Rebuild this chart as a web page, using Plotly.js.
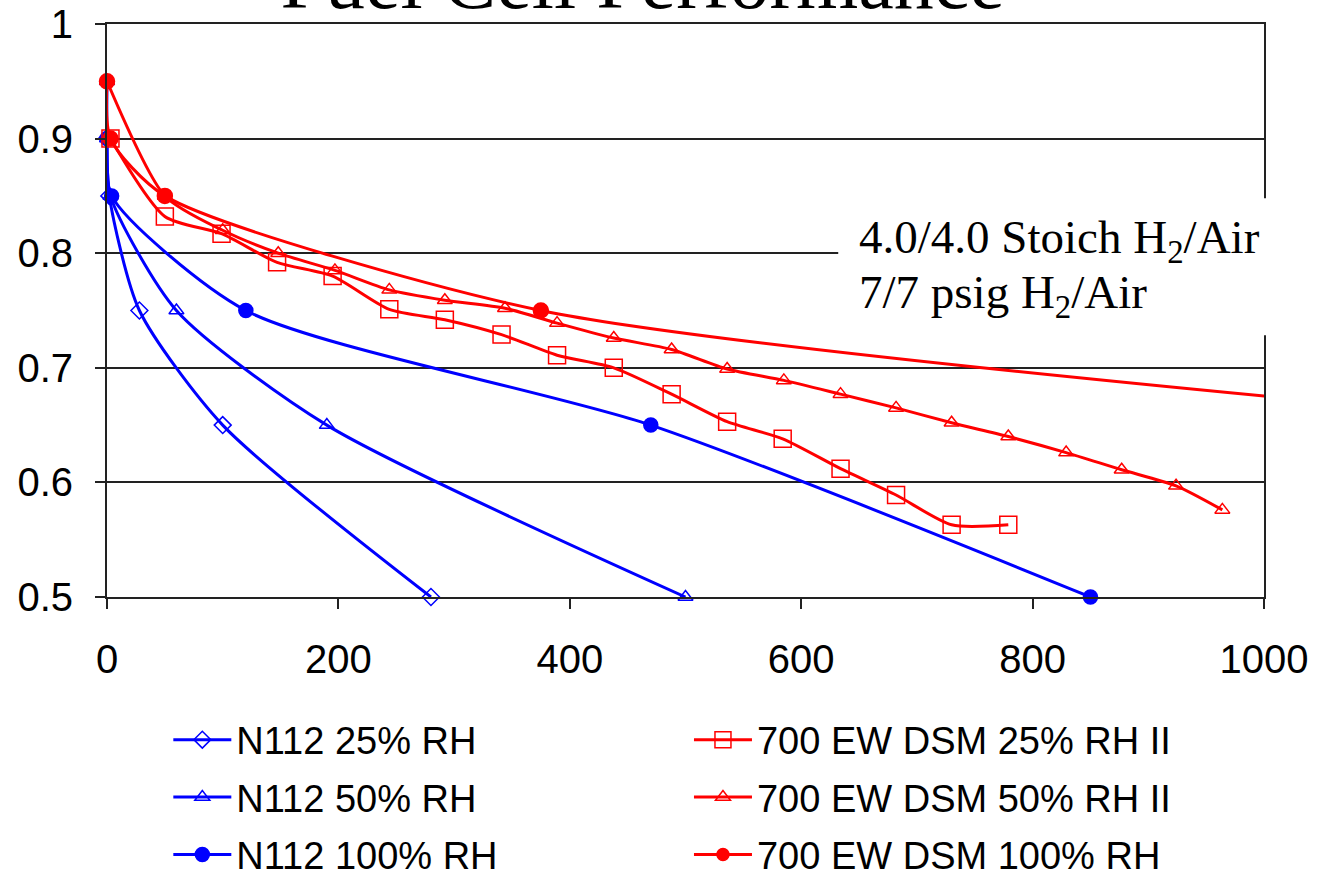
<!DOCTYPE html>
<html><head><meta charset="utf-8">
<script src="https://cdn.plot.ly/plotly-3.0.1.min.js"></script>
<style>html,body{margin:0;padding:0;background:#fff;} #chart{width:1317px;height:872px;}</style>
</head><body><div id="chart"></div>
<script>
const titleText = "Fuel Cell Performance";
const noteLine1 = "4.0/4.0 Stoich H<sub>2</sub>/Air";
const noteLine2 = "7/7 psig H<sub>2</sub>/Air";

const seriesNames = ["N112 25% RH", "N112 50% RH", "N112 100% RH",
  "700 EW DSM 25% RH II", "700 EW DSM 50% RH II", "700 EW DSM 100% RH"];

const n112_25_x = [0, 2, 28, 100, 280];
const n112_25_y = [0.9, 0.85, 0.75, 0.65, 0.5];
const n112_50_x = [0, 0, 3, 60, 190, 500];
const n112_50_y = [0.95, 0.9, 0.85, 0.75, 0.65, 0.5];
const n112_100_x = [0, 4, 120, 470, 850];
const n112_100_y = [0.9, 0.85, 0.75, 0.65, 0.5];

const dsm_25_x = [3, 50, 99, 147, 195, 244, 292, 341, 389, 438, 488, 536, 584, 634, 682, 730, 779];
const dsm_25_y = [0.9, 0.832, 0.817, 0.792, 0.78, 0.751, 0.742, 0.729, 0.711, 0.70, 0.677, 0.653, 0.638, 0.612, 0.589, 0.563, 0.563];
const dsm_50_x = [0, 50, 100, 148, 197, 244, 292, 344, 389, 438, 488, 536, 585, 634, 682, 730, 779, 829, 877, 924, 964];
const dsm_50_y = [0.95, 0.85, 0.82, 0.80, 0.785, 0.768, 0.759, 0.752, 0.739, 0.726, 0.716, 0.699, 0.689, 0.677, 0.665, 0.652, 0.640, 0.626, 0.611, 0.597, 0.576];
const dsm_100_x = [0, 3, 50, 375, 1003];
const dsm_100_y = [0.95, 0.9, 0.85, 0.75, 0.675];

const xTickVals = [0, 200, 400, 600, 800, 1000];
const xTickText = ["0", "200", "400", "600", "800", "1000"];
const yTickVals = [0.5, 0.6, 0.7, 0.8, 0.9, 1];
const yTickText = ["0.5", "0.6", "0.7", "0.8", "0.9", "1"];

const BLUE = "#0000FF", RED = "#FF0000";
const sansFont = "Liberation Sans, Arial, sans-serif";
const serifFont = "Liberation Serif, Times New Roman, serif";

function mk(x, y, name, color, symbol, size, legendId, group, hideBeyond) {
  return {
    type: "scatter", mode: "lines+markers", x: x, y: y, name: name,
    legend: legendId, legendgroup: group, cliponaxis: false,
    line: {color: color, width: 3, shape: "spline", smoothing: 0.7},
    marker: {
      color: color, symbol: symbol, opacity: 1,
      size: hideBeyond ? x.map(v => v > 1000 ? 0 : size) : size,
      line: {color: color, width: 1.5}
    }
  };
}

const data = [
  mk(n112_25_x, n112_25_y, seriesNames[0], BLUE, "diamond-open", 13, "legend", "g1"),
  mk(n112_50_x, n112_50_y, seriesNames[1], BLUE, "triangle-up-open", 13, "legend", "g2"),
  mk(n112_100_x, n112_100_y, seriesNames[2], BLUE, "circle", 14, "legend", "g3"),
  mk(dsm_25_x, dsm_25_y, seriesNames[3], RED, "square-open", 17, "legend2", "g4"),
  mk(dsm_50_x, dsm_50_y, seriesNames[4], RED, "triangle-up-open", 13, "legend2", "g5"),
  mk(dsm_100_x, dsm_100_y, seriesNames[5], RED, "circle", 15, "legend2", "g6", true)
];

const legendCommon = {
  orientation: "v", xanchor: "left", yanchor: "top", yref: "paper",
  font: {family: sansFont, size: 38, color: "#000"},
  bgcolor: "rgba(0,0,0,0)", borderwidth: 0, itemwidth: 58,
  traceorder: "grouped", tracegroupgap: 5,
  itemclick: false, itemdoubleclick: false
};

const layout = {
  width: 1317, height: 872,
  margin: {l: 107, r: 53, t: 24, b: 275, pad: 0, autoexpand: false},
  paper_bgcolor: "#fff", plot_bgcolor: "#fff",
  showlegend: true,
  title: {
    text: titleText,
    font: {family: serifFont, size: 80, color: "#000"},
    xref: "container", yref: "container", x: 0.488, xanchor: "center",
    y: 1 - 8 / 872, yanchor: "bottom"
  },
  xaxis: {
    range: [0, 1000], tickvals: xTickVals, ticktext: xTickText,
    ticks: "outside", ticklen: 10, tickwidth: 2, tickcolor: "#222",
    showline: true, linecolor: "#222", linewidth: 2, mirror: true,
    showgrid: false, zeroline: false, ticklabelstandoff: 16,
    tickfont: {family: sansFont, size: 40, color: "#000"}, fixedrange: true
  },
  yaxis: {
    range: [0.5, 1], tickvals: yTickVals, ticktext: yTickText,
    ticks: "outside", ticklen: 10, tickwidth: 2, tickcolor: "#222",
    showline: true, linecolor: "#222", linewidth: 2, mirror: true,
    showgrid: true, gridcolor: "#222", gridwidth: 2, zeroline: false,
    ticklabelstandoff: 14,
    tickfont: {family: sansFont, size: 40, color: "#000"}, fixedrange: true
  },
  legend: Object.assign({}, legendCommon, {x: 0.053, y: -0.1945}),
  legend2: Object.assign({}, legendCommon, {x: 0.503, y: -0.1945}),
  shapes: [{
    type: "rect", xref: "paper", yref: "paper", layer: "above",
    x0: 0.632, x1: 1.014, y0: 0.457, y1: 0.696,
    fillcolor: "#fff", line: {width: 0}
  }],
  annotations: [
    {xref: "paper", yref: "paper", x: 0.648, y: 0.622, xanchor: "left", yanchor: "middle",
     text: noteLine1, showarrow: false, align: "left",
     font: {family: serifFont, size: 47, color: "#000"}},
    {xref: "paper", yref: "paper", x: 0.648, y: 0.527, xanchor: "left", yanchor: "middle",
     text: noteLine2, showarrow: false, align: "left",
     font: {family: serifFont, size: 47, color: "#000"}}
  ]
};

Plotly.newPlot("chart", data, layout, {displayModeBar: false, staticPlot: true});
</script>
</body></html>
